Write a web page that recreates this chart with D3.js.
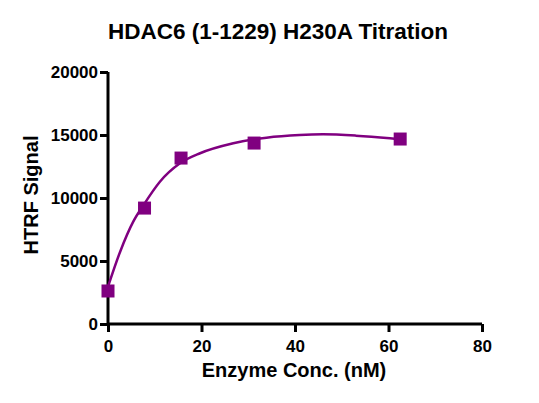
<!DOCTYPE html>
<html lang="en">
<head>
<meta charset="utf-8">
<title>HDAC6 (1-1229) H230A Titration</title>
<style>
    body { margin: 0; background: #fff; }
    text { font-family: "Liberation Sans", Arial, sans-serif; font-weight: bold; fill: #000; }
</style>
</head>
<body>
<script src="https://cdn.jsdelivr.net/npm/d3@7"></script>
<script>

    // measured points
    var doses = [0, 7.8125, 15.625, 31.25, 62.5];
    var signal = [2620, 9200, 13170, 14360, 14680];

    // fitted curve
    var fitX = [0, 2.6, 5.4, 7.6, 11.1, 15.4, 19.7, 26.8, 33.9, 41, 46, 53, 60.3, 62.8];
    var fitY = [2960, 5740, 8120, 9440, 11290, 12750, 13550, 14340, 14790, 15000, 15050, 14950, 14740, 14650];

    var xTicks = [0, 20, 40, 60, 80];
    var yTicks = [0, 5000, 10000, 15000, 20000];

    var titleText = "HDAC6 (1-1229) H230A Titration";
    var xLabel = "Enzyme Conc. (nM)";
    var yLabel = "HTRF Signal";

    var W = 539, H = 403;
    var margin = {top: 72, right: 57, bottom: 79, left: 108};
    var width = W - margin.left - margin.right,
        height = H - margin.top - margin.bottom;

    var purple = "#800080";

    var svg = d3.select("body").append("svg")
        .attr("width", W)
        .attr("height", H);

    var g = svg.append("g")
        .attr("transform", "translate(" + margin.left + "," + margin.top + ")");

    var x = d3.scaleLinear().domain([0, 80]).range([0, width]);
    var y = d3.scaleLinear().domain([0, 20000]).range([height, 0]);

    // axes
    var xAxis = g.append("g")
        .attr("transform", "translate(0," + height + ")")
        .call(d3.axisBottom(x).tickValues(xTicks).tickSize(8).tickPadding(8).tickFormat(d3.format("d")));
    var yAxis = g.append("g")
        .call(d3.axisLeft(y).tickValues(yTicks).tickSize(8).tickPadding(2).tickFormat(d3.format("d")));

    [xAxis, yAxis].forEach(function (a) {
        a.select(".domain").attr("stroke", "#000").attr("stroke-width", 3);
        a.selectAll(".tick line").attr("stroke", "#000").attr("stroke-width", 3);
        a.selectAll(".tick text")
            .style("font-family", "'Liberation Sans', Arial, sans-serif")
            .style("font-weight", "bold")
            .style("font-size", "17px")
            .attr("fill", "#000");
    });
    // flat ends on the domain paths (no outer tick stubs)
    xAxis.select(".domain").attr("d", "M0,0H" + width);
    yAxis.select(".domain").attr("d", "M0," + height + "V0");

    // fitted curve
    var line = d3.line()
        .x(function (d) { return x(d[0]); })
        .y(function (d) { return y(d[1]); })
        .curve(d3.curveMonotoneX);

    g.append("path")
        .datum(d3.zip(fitX, fitY))
        .attr("d", line)
        .attr("fill", "none")
        .attr("stroke", purple)
        .attr("stroke-width", 2.5);

    // squares
    var s = 13;
    g.selectAll(".pt")
        .data(d3.zip(doses, signal))
        .enter()
        .append("rect")
        .attr("class", "pt")
        .attr("x", function (d) { return x(d[0]) - s / 2; })
        .attr("y", function (d) { return y(d[1]) - s / 2; })
        .attr("width", s)
        .attr("height", s)
        .attr("fill", purple);

    // titles
    svg.append("text")
        .attr("x", 278)
        .attr("y", 39)
        .attr("text-anchor", "middle")
        .style("font-size", "22.5px")
        .text(titleText);

    svg.append("text")
        .attr("x", 294)
        .attr("y", 377)
        .attr("text-anchor", "middle")
        .style("font-size", "20px")
        .text(xLabel);

    svg.append("text")
        .attr("transform", "translate(38,195) rotate(-90)")
        .attr("text-anchor", "middle")
        .style("font-size", "20px")
        .text(yLabel);

</script>
</body>
</html>
